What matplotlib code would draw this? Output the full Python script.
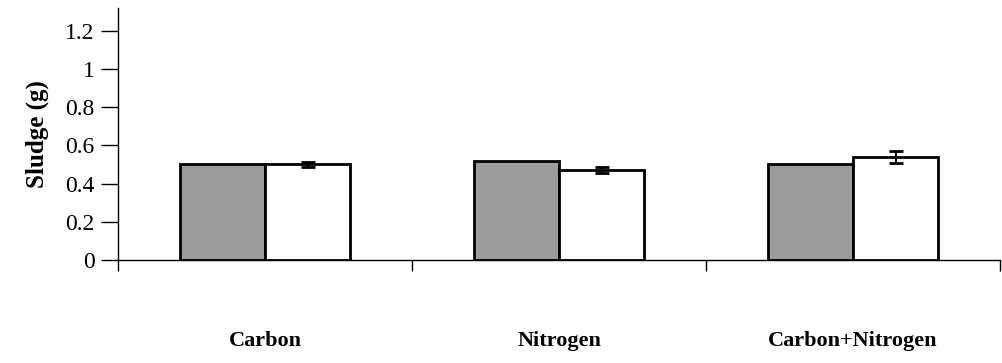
import numpy as np
import matplotlib.pyplot as plt

categories = ["Carbon", "Nitrogen", "Carbon+Nitrogen"]
control = [0.50, 0.52, 0.50]
treated = [0.50, 0.47, 0.54]
treated_err = [0.012, 0.015, 0.03]
yticks = [0, 0.2, 0.4, 0.6, 0.8, 1, 1.2]
ytick_labels = ["0", "0.2", "0.4", "0.6", "0.8", "1", "1.2"]

plt.rcParams["font.family"] = ["Liberation Serif", "DejaVu Serif"]

fig = plt.figure(figsize=(10.02, 3.63), dpi=100)
ax = fig.add_axes([0.118, 0.284, 0.88, 0.694])

x = np.arange(len(categories))
w = 0.29
ax.bar(x - w / 2, control, w, color="#9c9c9c", edgecolor="black", linewidth=2)
ax.bar(x + w / 2, treated, w, color="white", edgecolor="black", linewidth=2,
       yerr=treated_err, capsize=5,
       error_kw=dict(ecolor="black", elinewidth=1.5, capthick=2))

ax.set_xlim(-0.5, 2.5)
ax.set_ylim(0, 1.32)

ax.set_yticks(yticks)
ax.set_yticklabels(ytick_labels, fontsize=17)
ax.tick_params(axis="y", direction="out", length=12, width=1, pad=5)

# category boundaries as major ticks, names at minor ticks further down
ax.set_xticks([-0.5, 0.5, 1.5, 2.5])
ax.set_xticklabels([])
ax.tick_params(axis="x", which="major", direction="out", length=8, width=1)
ax.set_xticks(x, minor=True)
ax.set_xticklabels(categories, minor=True, fontsize=16, fontweight="bold")
ax.tick_params(axis="x", which="minor", length=0, pad=51)

ax.spines["top"].set_visible(False)
ax.spines["right"].set_visible(False)
ax.spines["left"].set_linewidth(1)
ax.spines["bottom"].set_linewidth(1)

ax.set_ylabel("Sludge (g)", fontsize=18, fontweight="bold", labelpad=12)

fig.savefig("out.png", dpi=100)
